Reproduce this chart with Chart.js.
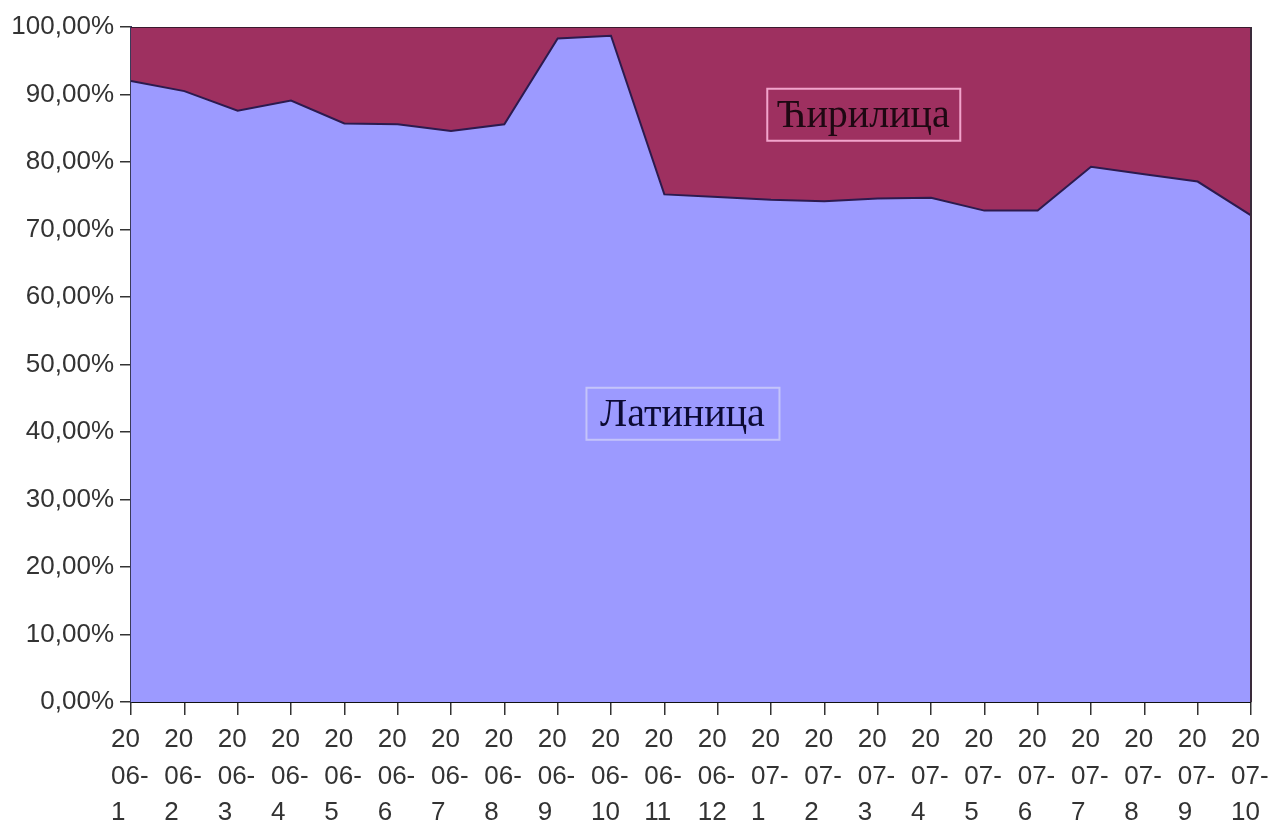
<!DOCTYPE html>
<html>
<head>
<meta charset="utf-8">
<title>Латиница / Ћирилица</title>
<script src="https://cdn.jsdelivr.net/npm/chart.js@4/dist/chart.umd.min.js"></script>
<style>
  body { margin: 0; background: #fff; }
  #wrap { width: 1283px; height: 833px; }
</style>
</head>
<body>
<div id="wrap"><canvas id="pismo"></canvas></div>
<script>
// months, year-month
var months = ['2006-1', '2006-2', '2006-3', '2006-4', '2006-5', '2006-6', '2006-7', '2006-8',
  '2006-9', '2006-10', '2006-11', '2006-12', '2007-1', '2007-2', '2007-3', '2007-4',
  '2007-5', '2007-6', '2007-7', '2007-8', '2007-9', '2007-10'];

// share in percent
var latinica = [92.0, 90.5, 87.6, 89.1, 85.7, 85.6, 84.6, 85.6, 98.3, 98.7, 75.2,
  74.8, 74.4, 74.2, 74.6, 74.7, 72.8, 72.8, 79.3, 78.2, 77.1, 72.1];
var cirilica = [8.0, 9.5, 12.4, 10.9, 14.3, 14.4, 15.4, 14.4, 1.7, 1.3, 24.8,
  25.2, 25.6, 25.8, 25.4, 25.3, 27.2, 27.2, 20.7, 21.8, 22.9, 27.9];

var yTicks = [0, 10, 20, 30, 40, 50, 60, 70, 80, 90, 100];

var axisFont = { family: "'Liberation Sans', Arial, sans-serif", size: 26, lineHeight: 1.42 };

// "2006-1" -> ["20", "06-", "1"] like the wrapped excel labels
function splitLabel(m) {
  return [m.slice(0, 2), m.slice(2, 5), m.slice(5)];
}

// boxed series names inside the areas
var boxLabels = {
  id: 'boxLabels',
  afterDatasetsDraw: function (chart, args, opts) {
    var ctx = chart.ctx;
    var xs = chart.scales.x, ys = chart.scales.y;
    ctx.save();
    opts.items.forEach(function (it) {
      var cx = xs.getPixelForValue(it.x);
      var cy = ys.getPixelForValue(it.y);
      ctx.font = '40px "Liberation Serif", "Times New Roman", serif';
      ctx.textAlign = 'center';
      ctx.textBaseline = 'middle';
      ctx.strokeStyle = it.border;
      ctx.lineWidth = 2;
      ctx.strokeRect(cx - 96, cy - 26, 193, 52);
      ctx.fillStyle = it.color;
      ctx.fillText(it.text, cx, cy + 2);
    });
    // right edge of the plot area
    var a = chart.chartArea;
    ctx.strokeStyle = '#3a2a3a';
    ctx.lineWidth = 2;
    ctx.beginPath();
    ctx.moveTo(a.right, a.top);
    ctx.lineTo(a.right, a.bottom);
    ctx.stroke();
    ctx.restore();
  }
};

new Chart(document.getElementById('pismo'), {
  type: 'line',
  data: {
    labels: months.map(splitLabel),
    datasets: [{
      label: 'Латиница',
      data: latinica,
      fill: 'origin',
      backgroundColor: '#9c9aff',
      borderColor: '#2c1a4e',
      borderWidth: 2,
      pointRadius: 0,
      tension: 0
    }, {
      label: 'Ћирилица',
      data: cirilica,
      fill: '-1',
      backgroundColor: '#9e3060',
      borderColor: '#3a1a2e',
      borderWidth: 2,
      pointRadius: 0,
      tension: 0
    }]
  },
  options: {
    responsive: true,
    maintainAspectRatio: false,
    animation: false,
    layout: { padding: { top: 27, right: 32, left: 0, bottom: 0 } },
    plugins: {
      legend: { display: false },
      tooltip: { enabled: false },
      boxLabels: {
        items: [
          { text: 'Ћирилица', x: 13.73, y: 87.0, border: '#f2a4cc', color: '#1e0812' },
          { text: 'Латиница', x: 10.34, y: 42.7, border: '#c4c4fa', color: '#0c0a34' }
        ]
      }
    },
    scales: {
      x: {
        offset: false,
        grid: { drawOnChartArea: false, tickLength: 13, color: '#333', lineWidth: 1.5 },
        border: { color: '#111', width: 2 },
        ticks: {
          autoSkip: false,
          maxRotation: 0,
          align: 'start',
          labelOffset: -20,
          padding: 6,
          color: '#333',
          font: axisFont
        },
        afterFit: function (s) { s.height = 131; s.paddingLeft = 0; s.paddingRight = 0; }
      },
      y: {
        stacked: true,
        min: 0,
        max: 100,
        afterBuildTicks: function (s) { s.ticks = yTicks.map(function (v) { return { value: v }; }); },
        grid: { drawOnChartArea: false, tickLength: 11, color: '#333', lineWidth: 1.5 },
        border: { color: '#3a3a5a', width: 2 },
        ticks: {
          padding: 6,
          color: '#333',
          font: { family: axisFont.family, size: 26 },
          callback: function (v) { return v.toFixed(2).replace('.', ',') + '%'; }
        },
        afterFit: function (s) { s.width = 131; s.paddingTop = 0; s.paddingBottom = 0; }
      }
    }
  },
  plugins: [boxLabels]
});
</script>
</body>
</html>
